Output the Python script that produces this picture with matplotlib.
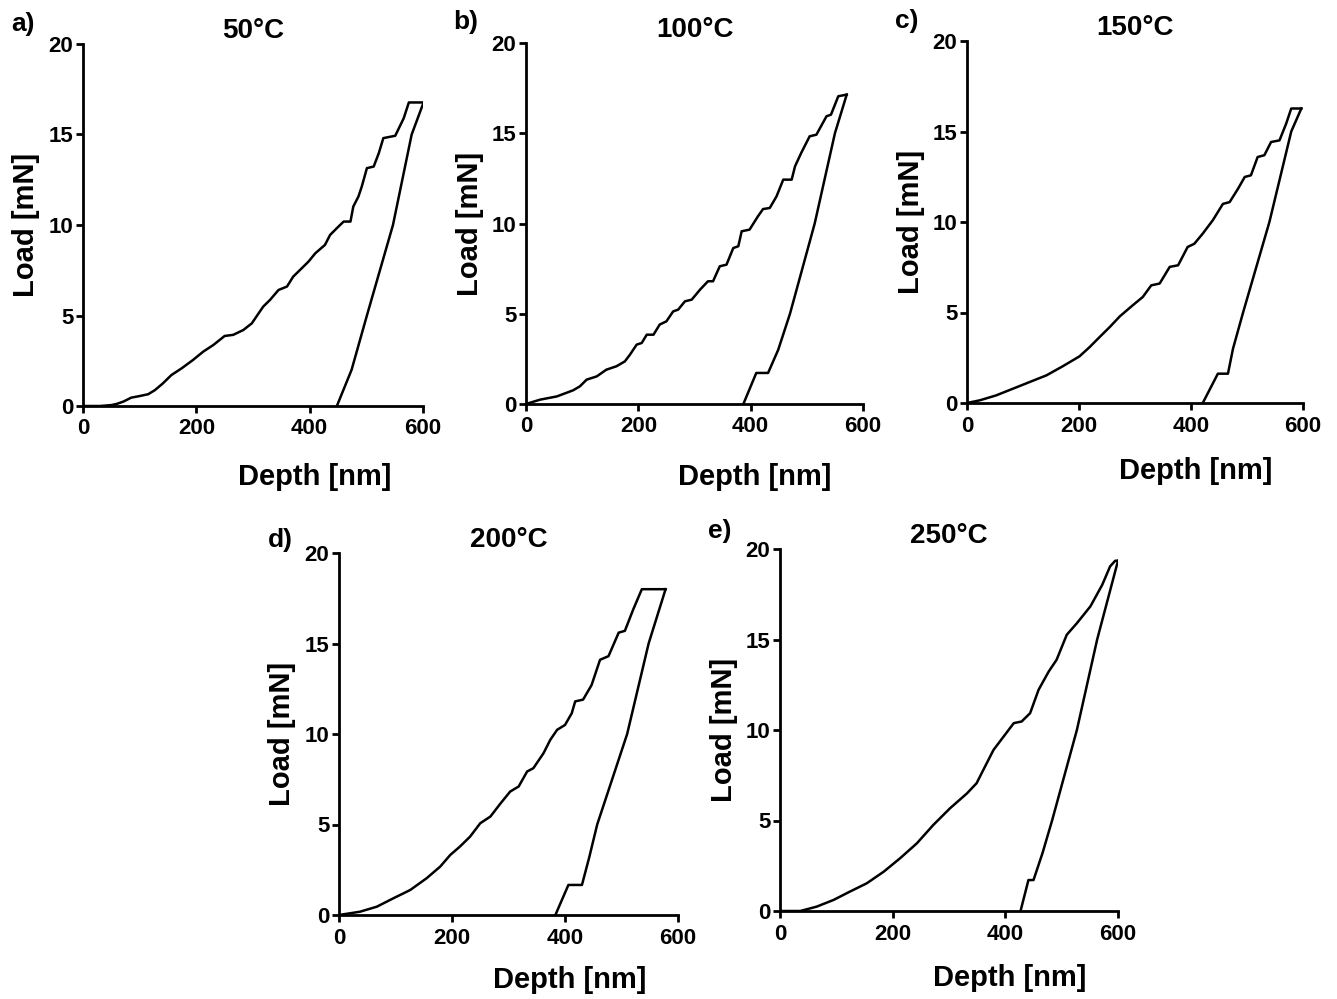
import matplotlib
matplotlib.use("Agg")
import matplotlib.pyplot as plt

plt.rcParams['font.family'] = ['Liberation Sans', 'DejaVu Sans']
plt.rcParams['font.weight'] = 'bold'

# panel titles / letters
panel_titles = ['50°C', '100°C', '150°C', '200°C', '250°C']
panel_letters = ['a)', 'b)', 'c)', 'd)', 'e)']
x_ticks = [0, 200, 400, 600]
y_ticks = [0, 5, 10, 15, 20]

# 50 C
a_load_x = [0, 30, 50, 59, 71, 85, 100, 115, 127, 141, 156, 174, 194, 212, 230, 250, 265, 283, 298, 306,
            318, 330, 345, 360, 371, 386, 398, 410, 427, 436, 451, 460, 472, 477, 486, 492, 501, 513, 522,
            530, 551, 566, 575, 601]
a_load_y = [0, 0, 0.05, 0.11, 0.24, 0.46, 0.55, 0.65, 0.88, 1.25, 1.71, 2.08, 2.54, 3.0, 3.37, 3.87, 3.93,
            4.2, 4.57, 4.94, 5.49, 5.86, 6.41, 6.6, 7.15, 7.61, 7.98, 8.44, 8.9, 9.45, 9.92, 10.19, 10.19,
            11.02, 11.57, 12.13, 13.14, 13.23, 13.97, 14.8, 14.93, 15.9, 16.77, 16.77]
a_unload_x = [601, 580, 547, 501, 474, 448]
a_unload_y = [16.77, 15.0, 10.0, 5.0, 2.0, 0]

# 100 C
b_load_x = [0, 25, 55, 84, 96, 108, 126, 143, 161, 176, 185, 197, 206, 215, 227, 238, 250, 262, 271, 283,
            295, 310, 324, 333, 345, 357, 369, 378, 384, 398, 413, 422, 434, 446, 458, 473, 479, 490, 505,
            517, 535, 543, 556, 571]
b_load_y = [0, 0.24, 0.42, 0.76, 0.98, 1.35, 1.53, 1.9, 2.09, 2.36, 2.73, 3.29, 3.38, 3.84, 3.84, 4.4,
            4.58, 5.13, 5.23, 5.69, 5.78, 6.34, 6.8, 6.8, 7.63, 7.72, 8.64, 8.74, 9.57, 9.66, 10.4, 10.8,
            10.86, 11.5, 12.43, 12.43, 13.17, 13.91, 14.83, 14.92, 15.94, 16.03, 17.05, 17.14]
b_unload_x = [571, 550, 514, 470, 449, 431, 410, 387]
b_unload_y = [17.14, 15.0, 10.0, 5.0, 3.0, 1.72, 1.72, 0]

# 150 C
c_load_x = [0, 23, 52, 82, 112, 142, 171, 201, 219, 237, 255, 273, 296, 314, 329, 344, 362, 377, 394, 406,
            421, 439, 457, 469, 484, 496, 507, 519, 531, 543, 558, 570, 579, 597]
c_load_y = [0, 0.15, 0.42, 0.79, 1.16, 1.53, 2.03, 2.58, 3.09, 3.65, 4.2, 4.79, 5.4, 5.86, 6.5, 6.6, 7.52,
            7.61, 8.62, 8.8, 9.36, 10.1, 11.0, 11.1, 11.84, 12.49, 12.58, 13.59, 13.69, 14.42, 14.51,
            15.44, 16.27, 16.27]
c_unload_x = [597, 579, 540, 493, 475, 466, 448, 421]
c_unload_y = [16.27, 15.0, 10.0, 5.0, 3.0, 1.62, 1.62, 0]

# 200 C
d_load_x = [0, 37, 67, 96, 126, 155, 179, 197, 214, 232, 250, 268, 286, 303, 318, 333, 344, 362, 374, 386,
            400, 412, 418, 432, 447, 462, 477, 495, 506, 521, 536, 578]
d_load_y = [0, 0.18, 0.46, 0.92, 1.38, 2.03, 2.67, 3.32, 3.78, 4.33, 5.07, 5.44, 6.17, 6.82, 7.1, 7.93,
            8.11, 8.94, 9.68, 10.23, 10.5, 11.15, 11.8, 11.9, 12.7, 14.1, 14.3, 15.6, 15.7, 16.9, 18.0, 18.0]
d_unload_x = [578, 548, 510, 457, 443, 430, 406, 383]
d_unload_y = [18.0, 15.0, 10.0, 5.0, 3.2, 1.66, 1.66, 0]

# 250 C
e_load_x = [0, 36, 65, 95, 124, 154, 184, 213, 243, 272, 302, 332, 349, 361, 379, 397, 415, 429, 444, 459,
            477, 491, 509, 527, 551, 572, 586, 595, 600]
e_load_y = [0, 0, 0.24, 0.61, 1.07, 1.53, 2.17, 2.91, 3.74, 4.75, 5.68, 6.5, 7.06, 7.8, 8.9, 9.64, 10.38,
            10.47, 10.93, 12.22, 13.23, 13.88, 15.26, 15.9, 16.83, 18.02, 19.04, 19.35, 19.35]
e_unload_x = [600, 563, 527, 483, 466, 450, 441, 427]
e_unload_y = [19.35, 15.0, 10.0, 5.0, 3.2, 1.71, 1.71, 0]

curves = [
    (a_load_x, a_load_y, a_unload_x, a_unload_y),
    (b_load_x, b_load_y, b_unload_x, b_unload_y),
    (c_load_x, c_load_y, c_unload_x, c_unload_y),
    (d_load_x, d_load_y, d_unload_x, d_unload_y),
    (e_load_x, e_load_y, e_unload_x, e_unload_y),
]

W, H = 1337, 999
# axes boxes in pixels: left, right, top, bottom
boxes = [(83, 423, 44, 406), (526, 863, 43, 404), (967, 1303, 41, 403),
         (339, 678, 553, 915), (780, 1118, 549, 911)]
letter_pos = [(23, 24), (466, 22), (907, 21), (280, 540), (720, 531)]
xlabel_y = [-0.196, -0.202, -0.188, -0.18, -0.185]

fig = plt.figure(figsize=(W / 100, H / 100), dpi=100)

for i, (l, r, t, b) in enumerate(boxes):
    ax = fig.add_axes([l / W, 1 - b / H, (r - l) / W, (b - t) / H])
    lx, ly, ux, uy = curves[i]
    ax.plot(lx, ly, color='black', lw=1.8, solid_joinstyle='round')
    ax.plot(ux, uy, color='black', lw=1.8, solid_joinstyle='round')
    ax.set_xlim(0, 600)
    ax.set_ylim(0, 20)
    ax.set_xticks(x_ticks)
    ax.set_yticks(y_ticks)
    for s in ['top', 'right']:
        ax.spines[s].set_visible(False)
    for s in ['left', 'bottom']:
        ax.spines[s].set_linewidth(2)
    ax.tick_params(direction='out', length=5, width=2, labelsize=16)
    ax.tick_params(axis='x', pad=4)
    ax.tick_params(axis='y', pad=2)
    for lab in ax.get_xticklabels() + ax.get_yticklabels():
        lab.set_fontweight('bold')
    ax.set_xlabel('Depth [nm]', fontsize=21, fontweight='bold', va='center')
    ax.set_ylabel('Load [mN]', fontsize=21, fontweight='bold', va='center')
    ax.xaxis.set_label_coords(0.68, xlabel_y[i])
    ax.yaxis.set_label_coords(-0.167, 0.5)
    ax.set_title(panel_titles[i], fontsize=20, fontweight='bold', pad=1)
    fx, fy = letter_pos[i]
    fig.text(fx / W, 1 - fy / H, panel_letters[i], fontsize=19, fontweight='bold',
             ha='center', va='center')

fig.savefig('out.png', dpi=100)
